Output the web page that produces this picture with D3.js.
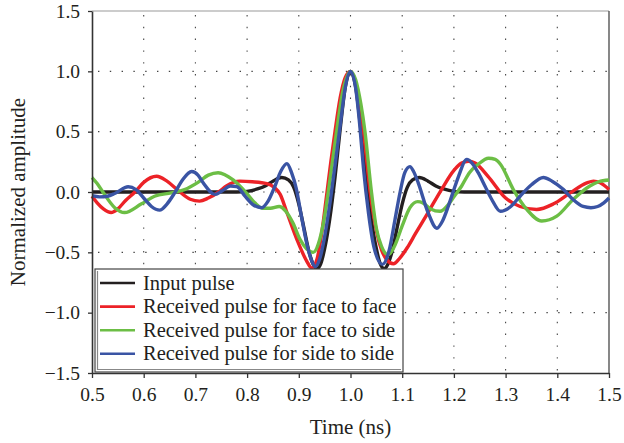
<!DOCTYPE html>
<html>
<head>
<meta charset="utf-8">
<script src="https://cdn.jsdelivr.net/npm/d3@7"></script>
<style>
  body { margin: 0; background: #fff; }
  svg { display: block; font-family: "Liberation Serif", "Times New Roman", serif; }
</style>
</head>
<body>
<div id="chart"></div>
<script>
// values: time in ns, normalized amplitude
const inputT = [0.50, 0.78, 0.80, 0.82, 0.835, 0.85, 0.867, 0.88, 0.89, 0.90, 0.91, 0.92, 0.928, 0.935, 0.942, 0.95, 0.96, 0.97, 0.98, 0.99, 1.00,
  1.01, 1.02, 1.03, 1.04, 1.05, 1.058, 1.065, 1.072, 1.08, 1.09, 1.10, 1.11, 1.12, 1.133, 1.15, 1.165, 1.18, 1.20, 1.22, 1.50]
const inputV = [0, 0, 0.005, 0.025, 0.05, 0.09, 0.12, 0.10, 0.04, -0.10, -0.30, -0.50, -0.60, -0.635, -0.60, -0.47, -0.22, 0.12, 0.52, 0.87, 1.00,
  0.87, 0.52, 0.12, -0.22, -0.47, -0.60, -0.635, -0.60, -0.50, -0.30, -0.10, 0.04, 0.10, 0.12, 0.09, 0.05, 0.025, 0.005, 0, 0]

const faceFaceT = [0.50, 0.51, 0.522, 0.537, 0.55, 0.565, 0.583, 0.60, 0.625, 0.645, 0.67, 0.69, 0.708, 0.725, 0.745, 0.76, 0.786, 0.81, 0.838, 0.852,
  0.864, 0.877, 0.896, 0.915, 0.925, 0.935, 0.945, 0.954, 0.962, 0.97, 0.98, 0.99, 1.00, 1.01, 1.018, 1.025, 1.038, 1.05, 1.06, 1.07, 1.083,
  1.095, 1.11, 1.125, 1.15, 1.176, 1.20, 1.215, 1.228, 1.241, 1.266, 1.30, 1.328, 1.36, 1.392, 1.425, 1.457, 1.47, 1.483, 1.50]
const faceFaceV = [-0.035, -0.09, -0.14, -0.17, -0.14, -0.07, 0, 0.08, 0.13, 0.09, 0, -0.06, -0.076, -0.05, 0, 0.05, 0.09, 0.085, 0.07, 0.04,
  -0.02, -0.17, -0.39, -0.57, -0.63, -0.56, -0.32, -0.02, 0.25, 0.50, 0.78, 0.95, 1.00, 0.90, 0.70, 0.50, 0.0, -0.32, -0.48, -0.56, -0.595,
  -0.55, -0.46, -0.35, -0.17, 0.02, 0.18, 0.24, 0.255, 0.24, 0.13, -0.05, -0.12, -0.145, -0.10, -0.007, 0.076, 0.09, 0.076, 0.02]

const faceSideT = [0.50, 0.51, 0.521, 0.544, 0.563, 0.595, 0.621, 0.653, 0.679, 0.705, 0.725, 0.744, 0.773, 0.799, 0.815, 0.83, 0.845, 0.862,
  0.875, 0.889, 0.902, 0.915, 0.928, 0.94, 0.95, 0.957, 0.965, 0.973, 0.985, 1.00, 1.01, 1.02, 1.028, 1.04, 1.05, 1.06, 1.073, 1.085, 1.10,
  1.115, 1.13, 1.14, 1.155, 1.173, 1.19, 1.20, 1.215, 1.23, 1.247, 1.267, 1.28, 1.29, 1.315, 1.341, 1.37, 1.399, 1.431, 1.463, 1.48, 1.50]
const faceSideV = [0.12, 0.07, 0, -0.13, -0.17, -0.10, -0.035, -0.007, 0.02, 0.08, 0.14, 0.16, 0.10, -0.01, -0.09, -0.135, -0.135, -0.12,
  -0.16, -0.26, -0.39, -0.47, -0.50, -0.40, -0.20, 0, 0.25, 0.50, 0.83, 1.00, 0.93, 0.73, 0.50, 0.02, -0.30, -0.45, -0.52, -0.45, -0.28,
  -0.13, -0.08, -0.09, -0.14, -0.16, -0.10, -0.04, 0.05, 0.16, 0.23, 0.28, 0.27, 0.23, 0.02, -0.145, -0.24, -0.20, -0.06, 0.05, 0.085, 0.10]

const sideSideT = [0.50, 0.515, 0.53, 0.545, 0.57, 0.585, 0.602, 0.615, 0.631, 0.645, 0.66, 0.675, 0.693, 0.705, 0.715, 0.738, 0.752, 0.768,
  0.78, 0.796, 0.81, 0.828, 0.84, 0.854, 0.865, 0.877, 0.886, 0.895, 0.905, 0.915, 0.925, 0.932, 0.94, 0.95, 0.96, 0.97, 0.98, 0.99, 1.00,
  1.01, 1.018, 1.025, 1.035, 1.045, 1.0615, 1.075, 1.086, 1.096, 1.105, 1.115, 1.122, 1.131, 1.15, 1.167, 1.178, 1.189, 1.20, 1.209, 1.225,
  1.235, 1.247, 1.26, 1.273, 1.29, 1.31, 1.328, 1.35, 1.373, 1.39, 1.412, 1.43, 1.45, 1.465, 1.478, 1.49, 1.50]
const sideSideV = [-0.03, -0.04, -0.035, -0.01, 0.043, 0.02, -0.06, -0.12, -0.15, -0.10, -0.007, 0.10, 0.17, 0.14, 0.076, -0.02, 0.01, 0.05,
  0.045, -0.035, -0.10, -0.13, -0.08, 0.05, 0.17, 0.235, 0.16, 0.03, -0.20, -0.42, -0.57, -0.62, -0.56, -0.37, -0.10, 0.22, 0.55, 0.87, 1.00,
  0.86, 0.55, 0.20, -0.18, -0.45, -0.60, -0.48, -0.23, 0.0, 0.16, 0.21, 0.17, 0.076, -0.17, -0.30, -0.24, -0.12, 0.02, 0.13, 0.27,
  0.24, 0.16, 0.05, -0.06, -0.16, -0.12, -0.035, 0.06, 0.12, 0.09, 0.02, -0.06, -0.12, -0.13, -0.12, -0.09, -0.05]

const seriesNames = ['Input pulse', 'Received pulse for face to face', 'Received pulse for face to side', 'Received pulse for side to side']
const seriesColors = ['#231f20', '#ec2227', '#6cbe45', '#3a54a4']
const xTicks = [0.5, 0.6, 0.7, 0.8, 0.9, 1.0, 1.1, 1.2, 1.3, 1.4, 1.5]
const yTicks = [-1.5, -1.0, -0.5, 0.0, 0.5, 1.0, 1.5]

const W = 624, H = 443
const margin = { left: 92, right: 15, top: 11, bottom: 70 }
const svg = d3.select('#chart').append('svg').attr('width', W).attr('height', H)

const x = d3.scaleLinear().domain([0.5, 1.5]).range([margin.left, W - margin.right])
const y = d3.scaleLinear().domain([-1.5, 1.5]).range([H - margin.bottom, margin.top])
const [x0, x1] = x.range(), [y0, y1] = y.range()

// dotted grid
const grid = svg.append('g').attr('stroke', '#444').attr('stroke-width', 1.1).attr('stroke-dasharray', '1.4,10.4')
grid.selectAll('line.vx').data(xTicks.slice(1, -1)).enter().append('line')
  .attr('x1', d => x(d)).attr('x2', d => x(d)).attr('y1', y1 + 4).attr('y2', y0)
grid.selectAll('line.hy').data(yTicks.slice(1, -1)).enter().append('line')
  .attr('y1', d => y(d)).attr('y2', d => y(d)).attr('x1', x0 + 6).attr('x2', x1)

// frame
svg.append('line').attr('x1', x0).attr('x2', x1).attr('y1', y1).attr('y2', y1).attr('stroke', '#999').attr('stroke-width', 1.2)
svg.append('line').attr('x1', x1).attr('x2', x1).attr('y1', y1).attr('y2', y0).attr('stroke', '#555').attr('stroke-width', 1.4)

// curves
const series = [[inputT, inputV], [faceFaceT, faceFaceV], [faceSideT, faceSideV], [sideSideT, sideSideV]]
const line = d3.line().x(d => x(d[0])).y(d => y(d[1])).curve(d3.curveMonotoneX)
svg.append('g').selectAll('path').data(series).enter().append('path')
  .attr('d', s => line(d3.zip(s[0], s[1])))
  .attr('fill', 'none')
  .attr('stroke', (s, i) => seriesColors[i])
  .attr('stroke-width', 3.4)
  .attr('stroke-linejoin', 'round')

// axes
const fmt = d3.format('.1f')
const xAxis = svg.append('g').attr('transform', `translate(0,${y0})`)
  .call(d3.axisBottom(x).tickValues(xTicks).tickFormat(fmt).tickSize(5).tickSizeOuter(0).tickPadding(9))
const yAxis = svg.append('g').attr('transform', `translate(${x0},0)`)
  .call(d3.axisLeft(y).tickValues(yTicks).tickFormat(fmt).tickSize(4).tickSizeOuter(0).tickPadding(8))
for (const ax of [xAxis, yAxis]) {
  ax.select('.domain').attr('stroke', '#333').attr('stroke-width', 1.6)
  ax.selectAll('.tick line').attr('stroke', '#333').attr('stroke-width', 1.3)
  ax.selectAll('text').attr('fill', '#231f20').style('font-size', '19.5px')
    .style('font-family', '"Liberation Serif", "Times New Roman", serif')
}

// axis titles
svg.append('text').attr('x', (x0 + x1) / 2).attr('y', 434).attr('text-anchor', 'middle')
  .style('font-size', '21px').attr('fill', '#231f20').text('Time (ns)')
svg.append('text').attr('transform', `translate(25,${(y0 + y1) / 2}) rotate(-90)`).attr('text-anchor', 'middle')
  .style('font-size', '21px').attr('fill', '#231f20').text('Normalized amplitude')

// legend
const lg = svg.append('g').attr('transform', 'translate(95,269)')
lg.append('rect').attr('width', 308).attr('height', 103).attr('fill', '#fff').attr('stroke', '#444').attr('stroke-width', 1.2)
lg.append('path').attr('d', 'M2.5,2 V100.5 H306').attr('fill', 'none').attr('stroke', '#888').attr('stroke-width', 1.2)
const rows = lg.selectAll('g.row').data(seriesNames).enter().append('g')
  .attr('transform', (d, i) => `translate(0,${14 + i * 23.6})`)
rows.append('line').attr('x1', 5).attr('x2', 40).attr('stroke', (d, i) => seriesColors[i]).attr('stroke-width', 2.6)
rows.append('text').attr('x', 48).attr('y', 6.5).style('font-size', '20.5px').attr('fill', '#231f20').text(d => d)
</script>
</body>
</html>
